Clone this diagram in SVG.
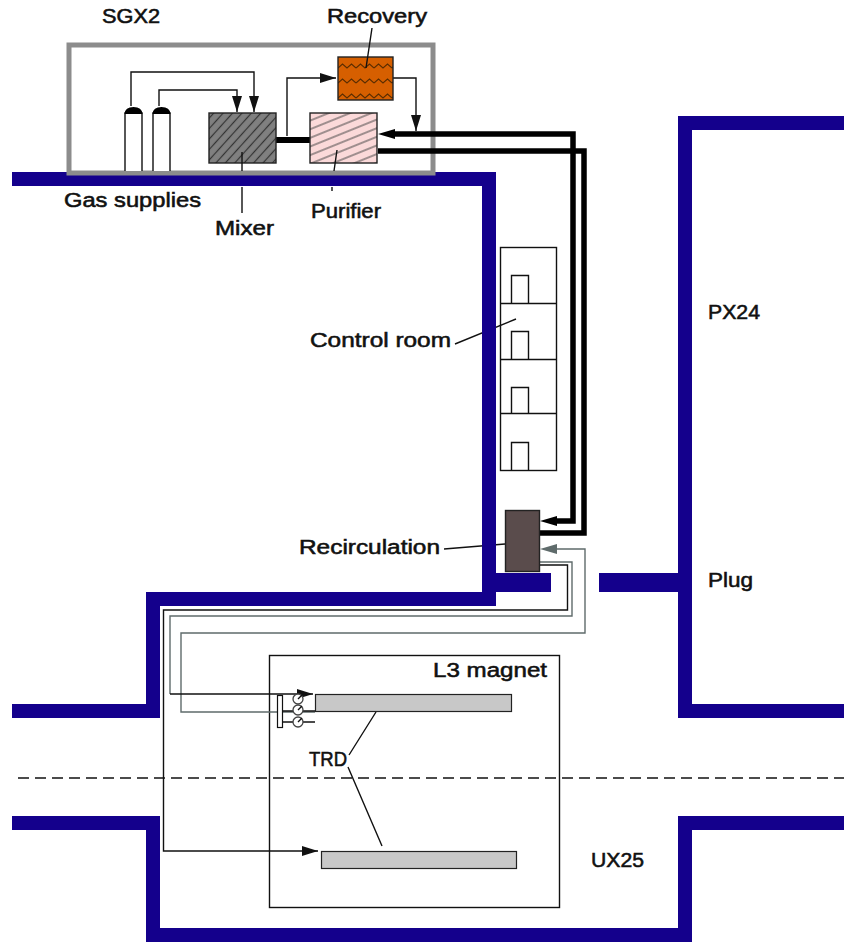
<svg xmlns="http://www.w3.org/2000/svg" width="844" height="942" viewBox="0 0 844 942">
<style>
text{font-family:"Liberation Sans",Arial,sans-serif;font-size:20px;fill:#111;stroke:#111;stroke-width:.55px}
.wall{fill:none;stroke:#14008c;stroke-width:14}
.thin{fill:none;stroke:#111;stroke-width:1.4}
.grey{fill:none;stroke:#5f6b6b;stroke-width:1.4}
.pipe{fill:none;stroke:#000;stroke-width:5.5}
.box{stroke:#222;stroke-width:1.4}
</style>
<defs>
<marker id="a" markerUnits="userSpaceOnUse" markerWidth="17" markerHeight="10" refX="16" refY="5" orient="auto"><path d="M0 0L16 5L0 10z" fill="#111"/></marker>
<pattern id="h1" patternUnits="userSpaceOnUse" width="7" height="7" patternTransform="rotate(-48)"><rect width="7" height="7" fill="#808080"/><path d="M0 3.500H7" stroke="#333" stroke-width="1.2"/></pattern>
<pattern id="h2" patternUnits="userSpaceOnUse" width="8" height="8" patternTransform="rotate(-22)"><rect width="8" height="8" fill="#fbd9d9"/><path d="M0 4H8" stroke="#444" stroke-width="1"/></pattern>
<pattern id="h3" patternUnits="userSpaceOnUse" width="18" height="15" x="338" y="59"><rect width="18" height="15" fill="#d65f00"/><path d="M0 9L4.500 5L9 9L13.500 5L18 9" fill="none" stroke="#5a2c00" stroke-width="1.1"/></pattern>
</defs>
<g id="leaders-under">
<path class="thin" d="M455 344L516 319M444 549L505 544M242 187V213M332 187V191"/>
<path class="thin" d="M376 712L349 755M348 767L382 846"/>
</g>
<g id="walls">
<path class="wall" d="M12 179H489V599H153V711H12"/>
<path class="wall" style="stroke-width:19" d="M489 582.500H551M599 582.500H685"/>
<path class="wall" d="M844 123H685V711H844M12 823H153V935H685V823H844"/>
</g>
<g id="l3-magnet"><rect x="269.500" y="655.500" width="290" height="252" fill="none" stroke="#111" stroke-width="1.4"/></g>
<g id="axis"><path d="M18 778H844" fill="none" stroke="#111" stroke-width="1.3" stroke-dasharray="11 6"/></g>
<g id="sgx2"><rect x="69" y="45" width="364" height="128" fill="none" stroke="#8c8c8c" stroke-width="5"/></g>
<g id="gas-supplies">
<path d="M125 171V113H142V171M153 171V113H170V171" fill="#fff" stroke="#111" stroke-width="1.4"/>
<path d="M124.500 114Q125 107 133.500 107Q142 107 142.500 114zM152.500 114Q153 107 161.500 107Q170 107 170.500 114z" fill="#000"/>
</g>
<g id="control-room" fill="none" stroke="#111" stroke-width="1.4">
<rect x="500.500" y="247.500" width="56" height="223"/>
<path d="M500 303.500H557M500 359.500H557M500 413.500H557M511.500 303V275.500H528.500V303M511.500 359V331.500H528.500V359M511.500 413V387.500H528.500V413M511.500 470V442.500H528.500V470"/>
</g>
<g id="trd">
<rect x="315.500" y="694.500" width="196" height="17" fill="#c8c8c8" stroke="#222" stroke-width="1.2"/>
<rect x="321.500" y="851.500" width="195" height="17" fill="#c8c8c8" stroke="#222" stroke-width="1.2"/>
</g>
<g id="connectors">
<path class="thin" d="M131 106V72H254V112" marker-end="url(#a)"/>
<path class="thin" d="M159 106V90H237V112" marker-end="url(#a)"/>
<path class="thin" d="M287 136V78H336" marker-end="url(#a)"/>
<path class="thin" d="M393 78H416V131" marker-end="url(#a)"/>
<path class="pipe" d="M276 140H310" style="stroke-width:6"/>
<path class="pipe" d="M395 134H573V521H556"/>
<path d="M378 134L395 129V139zM540 521L557 516V526z" fill="#000"/>
<path class="pipe" d="M378 151H584V533H540"/>
<path class="grey" d="M556 549H585V633H181V712H315"/>
<path d="M540 549L557 544V554z" fill="#5f6b6b"/>
<path class="grey" d="M540 562H572V616H170V694"/>
<path class="thin" d="M540 565H567.500V610H163.500V851H318" marker-end="url(#a)"/>
<path class="thin" d="M170 694H313" marker-end="url(#a)"/>
</g>
<g id="valves">
<rect x="277.500" y="695.500" width="5" height="32" fill="#fff" stroke="#111" stroke-width="1.2"/>
<path class="thin" d="M282 711H315M282 722H315"/>
<g fill="#fff" stroke="#444" stroke-width="1.3"><circle cx="298" cy="699" r="5"/><circle cx="298" cy="710" r="5"/><circle cx="298" cy="722" r="5"/></g>
<path class="thin" d="M298 699L302 695M298 710L302 706M298 722L302 718"/>
</g>
<g id="mixer"><rect class="box" x="209" y="113" width="67" height="50" fill="url(#h1)"/></g>
<g id="purifier"><rect class="box" x="310" y="113" width="67" height="50" fill="url(#h2)"/></g>
<g id="recovery"><rect class="box" x="338" y="57" width="55" height="43" fill="url(#h3)"/></g>
<g id="recirculation"><rect class="box" x="505.500" y="510.500" width="34" height="61" fill="#5a4c4c"/></g>
<g id="leaders-over"><path class="thin" d="M372 28L366 68M242 152V171M337 150L334 171"/></g>
<g id="labels">
<text x="102" y="23" textLength="58" lengthAdjust="spacingAndGlyphs">SGX2</text>
<text x="327" y="23" textLength="100" lengthAdjust="spacingAndGlyphs">Recovery</text>
<text x="64" y="207" textLength="137" lengthAdjust="spacingAndGlyphs">Gas supplies</text>
<text x="215" y="235" textLength="59" lengthAdjust="spacingAndGlyphs">Mixer</text>
<text x="311" y="218" textLength="70" lengthAdjust="spacingAndGlyphs">Purifier</text>
<text x="310" y="347" textLength="141" lengthAdjust="spacingAndGlyphs">Control room</text>
<text x="299" y="554" textLength="141" lengthAdjust="spacingAndGlyphs">Recirculation</text>
<text x="708" y="319" textLength="52" lengthAdjust="spacingAndGlyphs">PX24</text>
<text x="708" y="587" textLength="45" lengthAdjust="spacingAndGlyphs">Plug</text>
<text x="433" y="677" textLength="114" lengthAdjust="spacingAndGlyphs">L3 magnet</text>
<text x="309" y="766" textLength="38" lengthAdjust="spacingAndGlyphs">TRD</text>
<text x="591" y="867" textLength="53" lengthAdjust="spacingAndGlyphs">UX25</text>
</g>
</svg>
